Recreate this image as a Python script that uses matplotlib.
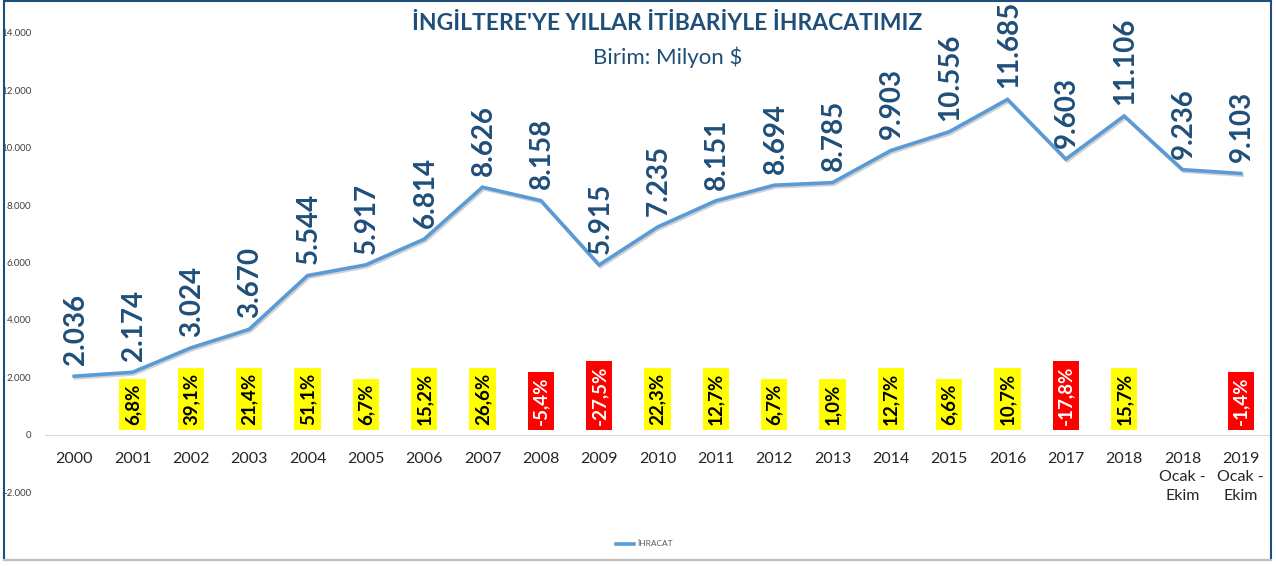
"""Ingiltere'ye yillar itibariyle ihracat - line chart with growth labels."""

import numpy as np
import matplotlib
matplotlib.use("Agg")
import matplotlib.pyplot as plt
import matplotlib.patheffects as pe
from matplotlib.patches import Rectangle
from matplotlib.lines import Line2D

categories = [str(y) for y in range(2000, 2019)] + ["2018\nOcak -\nEkim", "2019\nOcak -\nEkim"]
exports = [2036, 2174, 3024, 3670, 5544, 5917, 6814, 8626, 8158, 5915, 7235,
           8151, 8694, 8785, 9903, 10556, 11685, 9603, 11106, 9236, 9103]
changes = [None, 6.8, 39.1, 21.4, 51.1, 6.7, 15.2, 26.6, -5.4, -27.5, 22.3,
           12.7, 6.7, 1.0, 12.7, 6.6, 10.7, -17.8, 15.7, None, -1.4]
y_ticks = [-2000, 0, 2000, 4000, 6000, 8000, 10000, 12000, 14000]

DARK = "#1F4E79"
LINE = "#5B9BD5"
FONT = ["Lato", "DejaVu Sans"]

plt.rcParams["font.family"] = FONT


def tr_num(v):
    return f"{v:,}".replace(",", ".")


def tr_pct(v):
    return f"{v:.1f}%".replace(".", ",")


fig = plt.figure(figsize=(12.76, 5.66), dpi=100)
ax = fig.add_axes([45 / 1276, 74 / 566, 1225 / 1276, 459 / 566])

x = np.arange(len(categories))
ax.plot(x, exports, color=LINE, lw=2.6, solid_joinstyle="miter",
        path_effects=[pe.SimpleLineShadow(offset=(1.0, -1.2), alpha=0.18),
                      pe.Normal()], label="İHRACAT")

for i, v in enumerate(exports):
    ax.annotate(tr_num(v), xy=(i, v), xytext=(1, 8), textcoords="offset points",
                rotation=90, ha="center", va="bottom", fontsize=20,
                color=DARK, fontweight="bold")

for i, c in enumerate(changes):
    if c is None:
        continue
    neg = c < 0
    ax.annotate(tr_pct(c), xy=(i, 0), xytext=(0, 7), textcoords="offset points",
                rotation=90, ha="center", va="bottom", fontsize=13.5,
                fontweight="bold", color="white" if neg else "black",
                bbox=dict(boxstyle="square,pad=0.25",
                          fc="#FF0000" if neg else "#FFFF00", ec="none"))

# category labels under the zero line
for i, lab in enumerate(categories):
    ax.annotate(lab, xy=(i, 0), xytext=(0, -12.5), textcoords="offset points",
                ha="center", va="top", fontsize=11.5, color="#262626",
                linespacing=1.4)

ax.set_xlim(-0.5, len(categories) - 0.5)
ax.set_ylim(-2000, 14000)
ax.set_yticks(y_ticks)
ax.set_yticklabels([tr_num(t) for t in y_ticks], fontsize=7, color="#404040")
ax.set_xticks([])

for s in ["top", "right", "left"]:
    ax.spines[s].set_visible(False)
ax.spines["bottom"].set_position(("data", 0))
ax.spines["bottom"].set_color("#D9D9D9")
ax.tick_params(axis="y", length=0, pad=10)

fig.text(0.523, 0.958, "İNGİLTERE'YE YILLAR İTİBARİYLE İHRACATIMIZ",
         ha="center", va="center", fontsize=16.5, fontweight="bold", color=DARK)
fig.text(0.523, 0.898, "Birim: Milyon $", ha="center", va="center",
         fontsize=16, color=DARK)

handle = Line2D([], [], color=LINE, lw=2.6)
fig.legend([handle], ["İHRACAT"], loc="center", bbox_to_anchor=(0.505, 0.039),
           frameon=False, fontsize=6, handlelength=2.2, handletextpad=0.3,
           labelcolor="#595959")

# outer frame
fig.patches.append(Rectangle((4 / 1276, 6 / 566), 1267 / 1276, 559 / 566,
                             transform=fig.transFigure, fill=False,
                             ec=DARK, lw=1.5))
fig.lines.append(Line2D([4 / 1276, 1271 / 1276], [6 / 566, 6 / 566],
                        transform=fig.transFigure, color="#BFBFBF", lw=1.5))

fig.savefig("out.png", dpi=100)
